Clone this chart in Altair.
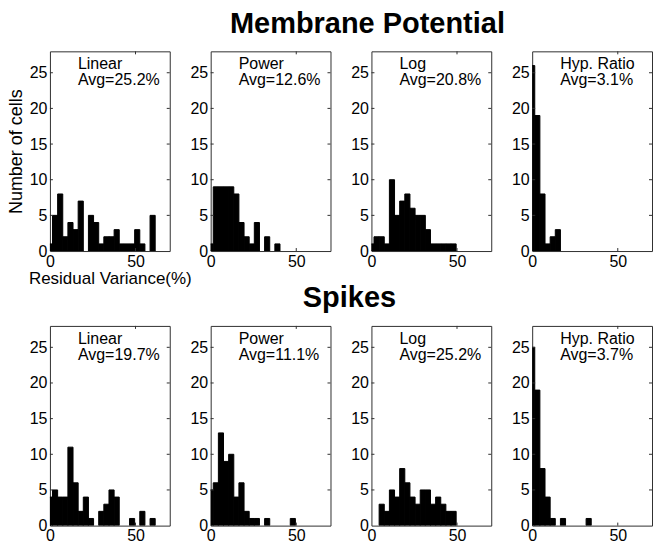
import altair as alt
import pandas as pd

FONT = "Liberation Sans"

# bin centres (width 3) of the histograms
BIN_CENTERS = [0, 3, 6, 9, 12, 15, 18, 21, 24, 27, 30, 33, 36, 39, 42, 45, 48, 51, 54, 57, 60]
BIN_HALF = 1.5

MODELS = ["Linear", "Power", "Log", "Hyp. Ratio"]
MP_AVG = ["Avg=25.2%", "Avg=12.6%", "Avg=20.8%", "Avg=3.1%"]
SP_AVG = ["Avg=19.7%", "Avg=11.1%", "Avg=25.2%", "Avg=3.7%"]
ROW_TITLES = ["Membrane Potential", "Spikes"]

# Membrane potential counts
MP_LINEAR = [1, 5, 8, 2, 4, 3, 7, 0, 5, 4, 1, 2, 2, 3, 1, 1, 1, 3, 1, 0, 5]
MP_POWER = [1, 9, 9, 9, 9, 8, 4, 2, 1, 4, 0, 2, 0, 1]
MP_LOG = [1, 2, 2, 1, 10, 5, 7, 8, 6, 5, 5, 3, 1, 1, 1, 1, 1]
MP_HYP = [26, 19, 8, 1, 2, 3]

# Spikes counts
SP_LINEAR = [4, 5, 4, 4, 11, 6, 2, 4, 1, 0, 2, 3, 5, 4, 0, 0, 1, 0, 2, 0, 1]
SP_POWER = [5, 6, 13, 9, 10, 4, 6, 2, 1, 1, 0, 1, 0, 0, 0, 0, 1]
SP_LOG = [0, 0, 3, 2, 5, 4, 8, 6, 4, 3, 5, 5, 3, 4, 3, 2, 2]
SP_HYP = [25, 19, 8, 4, 1, 0, 1, 0, 0, 0, 0, 1]

X_TICKS = [0, 50]
Y_TICKS = [0, 5, 10, 15, 20, 25]
X_DOMAIN = [0, 70]
Y_DOMAIN = [0, 28]

W, H = 120, 200
FRAME = "#303030"


def panel(counts, name, avg, first, row_title=None, title_x=0, title_y=-18):
    n = len(counts)
    df = pd.DataFrame({
        "lo": [c - BIN_HALF for c in BIN_CENTERS[:n]],
        "hi": [c + BIN_HALF for c in BIN_CENTERS[:n]],
        "count": counts,
    })
    df = df[df["count"] > 0]

    xscale = alt.Scale(domain=X_DOMAIN, nice=False)
    yscale = alt.Scale(domain=Y_DOMAIN, nice=False)

    xaxis = alt.Axis(values=X_TICKS, labelFontSize=16, labelFont=FONT, labelColor="black",
                     ticks=False, domain=False, grid=False, labelPadding=2,
                     labelFlush=False, labelOverlap=False,
                     title="Residual Variance(%)" if first else None,
                     titleFontSize=17, titleFont=FONT, titleFontWeight="normal",
                     titleColor="black", titlePadding=2)
    yaxis = alt.Axis(values=Y_TICKS, labelFontSize=16, labelFont=FONT, labelColor="black",
                     ticks=False, domain=False, grid=False, labelPadding=3,
                     labelFlush=False, labelOverlap=False,
                     title="Number of cells" if first else None,
                     titleFontSize=18, titleFont=FONT, titleFontWeight="normal",
                     titleColor="black", titlePadding=4)

    bars = alt.Chart(df).mark_rect(color="black", stroke="black", strokeWidth=1,
                                   clip=True).encode(
        x=alt.X("lo:Q", scale=xscale, axis=xaxis),
        x2="hi:Q",
        y=alt.Y("count:Q", scale=yscale, axis=yaxis),
        y2=alt.datum(0),
    )

    yt = pd.DataFrame({"v": Y_TICKS[1:]})
    left_ticks = alt.Chart(yt).mark_rule(color=FRAME, strokeWidth=1).encode(
        y=alt.Y("v:Q", scale=yscale, axis=yaxis), x=alt.value(0), x2=alt.value(3))
    right_ticks = alt.Chart(yt).mark_rule(color=FRAME, strokeWidth=1).encode(
        y=alt.Y("v:Q", scale=yscale, axis=yaxis), x=alt.value(W - 3), x2=alt.value(W))
    xt = pd.DataFrame({"v": X_TICKS[1:]})
    bottom_ticks = alt.Chart(xt).mark_rule(color=FRAME, strokeWidth=1).encode(
        x=alt.X("v:Q", scale=xscale, axis=xaxis), y=alt.value(H - 3), y2=alt.value(H))
    top_ticks = alt.Chart(xt).mark_rule(color=FRAME, strokeWidth=1).encode(
        x=alt.X("v:Q", scale=xscale, axis=xaxis), y=alt.value(0), y2=alt.value(3))

    txt_name = alt.Chart(pd.DataFrame({"t": [name]})).mark_text(
        align="left", baseline="alphabetic", font=FONT, fontSize=16, color="black"
    ).encode(text="t:N", x=alt.value(28), y=alt.value(18))
    txt_avg = alt.Chart(pd.DataFrame({"t": [avg]})).mark_text(
        align="left", baseline="alphabetic", font=FONT, fontSize=16, color="black"
    ).encode(text="t:N", x=alt.value(28), y=alt.value(34))

    layers = [bars, left_ticks, right_ticks, bottom_ticks, top_ticks, txt_name, txt_avg]
    if row_title is not None:
        layers.append(
            alt.Chart(pd.DataFrame({"t": [row_title]})).mark_text(
                align="center", baseline="alphabetic", font=FONT, fontSize=29,
                fontWeight="bold", color="black"
            ).encode(text="t:N", x=alt.value(title_x), y=alt.value(title_y))
        )
    return alt.layer(*layers).properties(width=W, height=H)


mp_counts = [MP_LINEAR, MP_POWER, MP_LOG, MP_HYP]
sp_counts = [SP_LINEAR, SP_POWER, SP_LOG, SP_HYP]

panels = []
for i, (c, m, a) in enumerate(zip(mp_counts, MODELS, MP_AVG)):
    panels.append(panel(c, m, a, i == 0,
                        ROW_TITLES[0] if i == 0 else None, title_x=318, title_y=-18))
for i, (c, m, a) in enumerate(zip(sp_counts, MODELS, SP_AVG)):
    panels.append(panel(c, m, a, False,
                        ROW_TITLES[1] if i == 0 else None, title_x=300, title_y=-19))

chart = alt.concat(*panels, columns=4, spacing={"row": 75, "column": 41},
                   bounds="flush").properties(
    padding={"left": 6, "top": 9, "right": 0, "bottom": 0},
    background="white",
).configure_view(stroke=FRAME, strokeWidth=1)

chart.save("out.html", embed_options={"renderer": "svg", "actions": False})
